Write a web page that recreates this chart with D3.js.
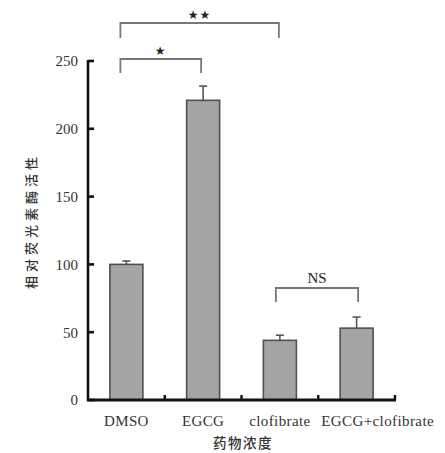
<!DOCTYPE html>
<html><head><meta charset="utf-8">
<script src="https://cdn.jsdelivr.net/npm/d3@7"></script>
<style>body{margin:0;background:#fff}svg{display:block}</style>
</head><body>
<script>
const categories = ["DMSO", "EGCG", "clofibrate", "EGCG+clofibrate"];
const values = [100, 221, 44, 53];
const errors = [2.5, 10.5, 3.8, 8.2];
const yTicks = [0, 50, 100, 150, 200, 250];
const yLabel = "相对荧光素酶活性";
const xLabel = "药物浓度";
const labelShift = [0, 0, 0, 21];
const brackets = [
  {from: 0, to: 1, y: 59, drop: 14, label: "*", dx1: -6, dx2: -2},
  {from: 0, to: 2, y: 23, drop: 15, label: "**", dx1: -6, dx2: -1},
  {from: 2, to: 3, y: 288, drop: 14, label: "NS", dx1: -4, dx2: 1.5}
];

const W = 445, H = 453;
const svg = d3.select("body").append("svg").attr("width", W).attr("height", H);
const x = d3.scaleBand().domain(categories).range([88, 395]).padding(0);
const y = d3.scaleLinear().domain([0, 250]).range([400, 61]);
const serif = "'Liberation Serif','Times New Roman',serif";
const cjk = "'Noto Sans CJK SC',sans-serif";

const barW = 33;
svg.selectAll("rect.bar").data(categories).enter().append("rect")
  .attr("x", d => x(d) + x.bandwidth()/2 - barW/2)
  .attr("y", (d,i) => y(values[i]))
  .attr("width", barW)
  .attr("height", (d,i) => y(0) - y(values[i]))
  .attr("fill", "#a4a4a4").attr("stroke", "#505050").attr("stroke-width", 1.6);

const eg = svg.append("g").attr("stroke", "#555").attr("stroke-width", 1.6);
categories.forEach((c, i) => {
  const cx = x(c) + x.bandwidth()/2;
  eg.append("line").attr("x1", cx).attr("x2", cx).attr("y1", y(values[i])).attr("y2", y(values[i] + errors[i]));
  eg.append("line").attr("x1", cx - 4).attr("x2", cx + 4).attr("y1", y(values[i] + errors[i])).attr("y2", y(values[i] + errors[i]));
});

const yAxis = d3.axisLeft(y).tickValues(yTicks).tickSize(0).tickPadding(10);
const ya = svg.append("g").attr("transform", "translate(88,0)").call(yAxis);
ya.select(".domain").remove();
ya.selectAll("text").attr("font-family", serif).attr("font-size", 15).attr("fill", "#333");
svg.append("line").attr("x1", 88).attr("x2", 88).attr("y1", y(250) - 1).attr("y2", y(0) + 1)
  .attr("stroke", "#111").attr("stroke-width", 2.6);
svg.selectAll("line.ytick").data(yTicks).enter().append("line")
  .attr("x1", 88).attr("x2", 94).attr("y1", d => y(d)).attr("y2", d => y(d))
  .attr("stroke", "#111").attr("stroke-width", 2.6);

svg.append("line").attr("x1", 87).attr("x2", 396).attr("y1", y(0)).attr("y2", y(0))
  .attr("stroke", "#111").attr("stroke-width", 2.8);
svg.selectAll("line.xtick").data(categories).enter().append("line")
  .attr("x1", d => x(d) + x.bandwidth()).attr("x2", d => x(d) + x.bandwidth())
  .attr("y1", y(0)).attr("y2", y(0) - 5)
  .attr("stroke", "#111").attr("stroke-width", 2.4);
const xAxis = d3.axisBottom(x).tickSize(0).tickPadding(15);
const xa = svg.append("g").attr("transform", `translate(0,${y(0)})`).call(xAxis);
xa.select(".domain").remove();
xa.selectAll("text").attr("font-family", serif).attr("font-size", 15).attr("fill", "#333")
  .attr("letter-spacing", 0.4)
  .attr("dx", (d, i) => labelShift[i]);

svg.append("text").attr("transform", "translate(30,221) rotate(-90)")
  .attr("text-anchor", "middle").attr("dominant-baseline", "central")
  .attr("font-family", cjk).attr("font-size", 13).attr("font-weight", 500).attr("letter-spacing", 4).attr("fill", "#333")
  .text(yLabel);
svg.append("text").attr("x", 243).attr("y", 442).attr("text-anchor", "middle")
  .attr("dominant-baseline", "central")
  .attr("font-family", cjk).attr("font-size", 13.5).attr("font-weight", 500).attr("letter-spacing", 1.5).attr("fill", "#333")
  .text(xLabel);

brackets.forEach(b => {
  const x1 = x(categories[b.from]) + x.bandwidth()/2 + b.dx1;
  const x2 = x(categories[b.to]) + x.bandwidth()/2 + b.dx2;
  svg.append("path")
    .attr("d", `M${x1},${b.y + b.drop}V${b.y}H${x2}V${b.y + b.drop}`)
    .attr("fill", "none").attr("stroke", "#777").attr("stroke-width", 1.8);
  const t = svg.append("text").attr("x", (x1 + x2)/2).attr("text-anchor", "middle")
    .attr("fill", "#222");
  if (b.label === "NS") {
    t.attr("y", b.y - 5).attr("font-family", serif).attr("font-size", 15).text(b.label);
  } else {
    t.attr("y", b.y - 4).attr("font-family", "'DejaVu Sans',sans-serif").attr("font-size", 12)
     .attr("letter-spacing", 1).text(b.label.replace(/\*/g, "★"));
  }
});
</script>
</body></html>
